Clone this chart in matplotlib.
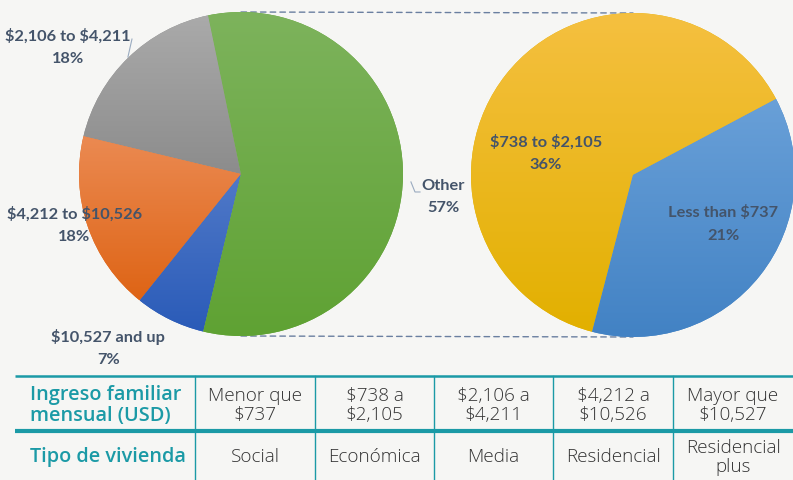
import matplotlib
matplotlib.use("Agg")
import matplotlib.pyplot as plt
import numpy as np
from matplotlib.colors import LinearSegmentedColormap
from matplotlib.patches import ConnectionPatch

# ---------------- data ----------------
left_labels = ["$2,106 to $4,211", "$4,212 to $10,526", "$10,527 and up", "Other"]
left_values = [18, 18, 7, 57]
right_labels = ["$738 to $2,105", "Less than $737"]
right_values = [36, 21]

table_headers = ["Ingreso familiar\nmensual (USD)", "Tipo de vivienda"]
income_ranges = ["Menor que\n$737", "$738 a\n$2,105", "$2,106 a\n$4,211", "$4,212 a\n$10,526", "Mayor que\n$10,527"]
housing_types = ["Social", "Económica", "Media", "Residencial", "Residencial\nplus"]

# ---------------- style ----------------
BG = "#f6f6f4"
LABEL_C = "#44546a"
TEAL = "#1b9aa6"
W, H = 793, 481

left_grad = [("#aaaaaa", "#8c8c8c"), ("#eb8a52", "#de6415"), ("#5079c8", "#2a5bb8"), ("#7db35c", "#5fa233")]
right_grad = [("#f5c040", "#e2b000"), ("#69a0d8", "#4282c4")]

fig = plt.figure(figsize=(W / 100, H / 100), dpi=100, facecolor=BG)


def px_axes(x0, y0, w, h):
    return fig.add_axes([x0 / W, 1 - (y0 + h) / H, w / W, h / H])


def gradient_pie(ax, values, grads, startangle):
    wedges, _ = ax.pie(values, startangle=startangle, counterclock=True,
                       colors=[g[1] for g in grads], radius=1,
                       wedgeprops=dict(linewidth=0))
    grad = np.linspace(1, 0, 256).reshape(-1, 1)
    for w_, (c_top, c_bot) in zip(wedges, grads):
        ext = w_.get_path().get_extents()
        cmap = LinearSegmentedColormap.from_list("g", [c_bot, c_top])
        im = ax.imshow(grad, cmap=cmap, vmin=0, vmax=1, aspect="auto",
                       extent=[ext.x0, ext.x1, ext.y0, ext.y1], zorder=2,
                       interpolation="bilinear")
        im.set_clip_path(w_)
    ax.set_xlim(-1, 1)
    ax.set_ylim(-1, 1)
    ax.set_aspect("equal")
    ax.axis("off")
    return wedges


# left pie
axL = px_axes(79, 13, 324, 324)
gradient_pie(axL, left_values, left_grad, 101.7)

# right pie
axR = px_axes(471, 14, 324, 324)
gradient_pie(axR, right_values, right_grad, 28)

lab_kw = dict(ha="center", va="center", fontsize=11.8, fontweight="bold",
              color=LABEL_C, family=["Lato", "DejaVu Sans"], linespacing=1.75, zorder=5,
              parse_math=False)

left_pos = [(-1.068, 0.79), (-1.03, -0.31), (-0.82, -1.07), (1.25, -0.136)]
for lab, v, (x, y) in zip(left_labels, left_values, left_pos):
    axL.text(x, y, f"{lab}\n{v}%", clip_on=False, **lab_kw)

right_pos = [(-0.537, 0.142), (0.556, -0.296)]
for lab, v, (x, y) in zip(right_labels, right_values, right_pos):
    axR.text(x, y, f"{lab}\n{v}%", clip_on=False, **lab_kw)

# leader lines
axL.plot([-0.673, -0.698], [0.833, 0.722], color="#9aabc0", lw=0.8, clip_on=False, zorder=4)
axL.plot([1.049, 1.074, 1.105], [-0.049, -0.111, -0.111], color="#9aabc0", lw=0.8, clip_on=False, zorder=4)

# dashed connectors between pies
for yy in (1, -1):
    con = ConnectionPatch(xyA=(0, yy), coordsA=axL.transData, xyB=(0, yy), coordsB=axR.transData,
                          color="#6a7fa0", lw=1.0, linestyle=(0, (4, 3)), zorder=0)
    fig.add_artist(con)

# ---------------- table ----------------
axT = px_axes(0, 370, W, 111)
axT.set_xlim(0, W)
axT.set_ylim(111, 0)
axT.axis("off")

col_edges = [15, 195, 315, 434, 553, 673, 793]
y_top, y_mid, y_bot = 7, 62, 111

axT.plot([col_edges[0], W], [y_top, y_top], color=TEAL, lw=1.8, solid_capstyle="butt")
axT.plot([col_edges[0], W], [y_mid, y_mid], color=TEAL, lw=3.0, solid_capstyle="butt")
for xe in col_edges[1:-1]:
    axT.plot([xe, xe], [y_top, y_bot], color=TEAL, lw=1.0)

hdr_kw = dict(fontsize=14.3, fontweight="semibold", color=TEAL, family=["Open Sans", "DejaVu Sans"],
              va="center", ha="left", linespacing=1.1, parse_math=False)
axT.text(col_edges[0] + 15, (y_top + y_mid) / 2 + 1, table_headers[0], **hdr_kw)
axT.text(col_edges[0] + 15, (y_mid + y_bot) / 2 + 1, table_headers[1], **hdr_kw)

cell_kw = dict(fontsize=13.6, fontweight="light", color="#333333", family=["Open Sans", "DejaVu Sans"],
               va="center", ha="center", linespacing=1.1, parse_math=False)
for i, (inc, typ) in enumerate(zip(income_ranges, housing_types)):
    cx = (col_edges[i + 1] + col_edges[i + 2]) / 2
    axT.text(cx, (y_top + y_mid) / 2 + 1, inc, **cell_kw)
    axT.text(cx, (y_mid + y_bot) / 2 + 1, typ, **cell_kw)

fig.savefig("out.png", dpi=100, facecolor=BG)
